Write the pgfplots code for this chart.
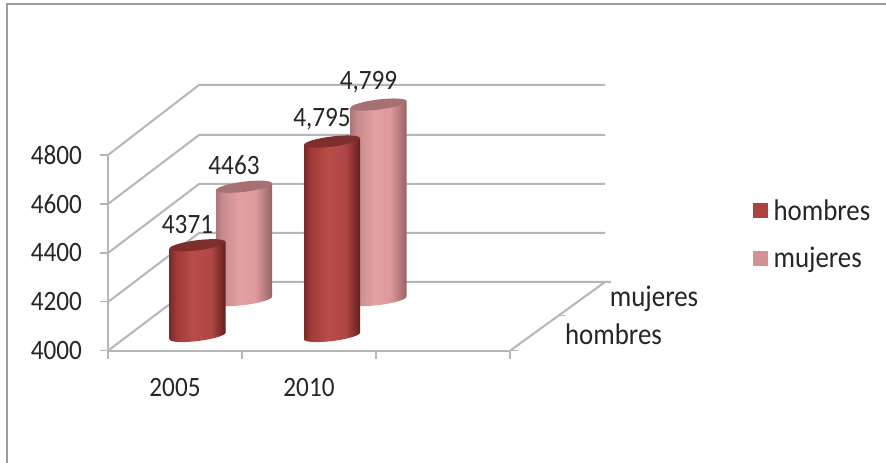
\documentclass[border=0pt]{standalone}
\usepackage{fontspec}
\setmainfont[FakeStretch=0.9]{Carlito}
\usepackage{pgfplots}
\pgfplotsset{compat=1.18}
\definecolor{gridc}{HTML}{B6B6B6}
\definecolor{framec}{HTML}{9C9C9C}
\definecolor{txt}{HTML}{262626}
\definecolor{hleg}{HTML}{AD4341}
\definecolor{mleg}{HTML}{D09293}
\definecolor{htop}{HTML}{7E2E2C}
\definecolor{mtop}{HTML}{A77072}
\definecolor{ha}{RGB}{122,42,40}
\definecolor{hb}{RGB}{160,58,56}
\definecolor{hc}{RGB}{184,76,73}
\definecolor{hd}{RGB}{176,70,68}
\definecolor{he}{RGB}{125,42,40}
\definecolor{hf}{RGB}{98,32,30}
\definecolor{ma}{RGB}{170,120,122}
\definecolor{mb}{RGB}{200,140,142}
\definecolor{mc}{RGB}{226,160,162}
\definecolor{md}{RGB}{222,154,156}
\definecolor{me}{RGB}{175,118,120}
\definecolor{mf}{RGB}{150,100,102}
\pgfdeclarehorizontalshading{cylH}{100bp}{
 color(0bp)=(ha); color(25bp)=(ha); color(31bp)=(hb); color(46bp)=(hc);
 color(62bp)=(hd); color(71bp)=(he); color(75bp)=(hf); color(100bp)=(hf)}
\pgfdeclarehorizontalshading{cylM}{100bp}{
 color(0bp)=(ma); color(25bp)=(ma); color(31bp)=(mb); color(46bp)=(mc);
 color(60bp)=(md); color(70bp)=(me); color(75bp)=(mf); color(100bp)=(mf)}
\pgfdeclareplotmark{ellH}{\pgfpathellipse{\pgfpointorigin}{\pgfpoint{21pt}{2.6pt}}{\pgfpoint{-.45pt}{3.75pt}}\pgfshadepath{cylH}{0}\pgfusepath{discard}}
\pgfdeclareplotmark{ellM}{\pgfpathellipse{\pgfpointorigin}{\pgfpoint{21pt}{2.6pt}}{\pgfpoint{-.45pt}{3.75pt}}\pgfshadepath{cylM}{0}\pgfusepath{discard}}
\pgfdeclareplotmark{ellT}{\pgfpathellipse{\pgfpointorigin}{\pgfpoint{21pt}{2.6pt}}{\pgfpoint{-.45pt}{3.75pt}}\pgfusepathqfill}
\newcommand{\lab}{\fontsize{21}{22}\selectfont}
\newcommand{\wrd}{\fontsize{22.4}{23}\selectfont}
\pgfplotsset{
  gridl/.style={gridc,line width=1.5pt,mark=none,forget plot},
  pxaxis/.style={scale only axis,clip=false,hide axis,width=664.5pt,height=347.25pt,
    xmin=0,xmax=886,ymin=0,ymax=463,y dir=reverse,at={(0pt,0pt)},anchor=south west},
  valaxis/.style={scale only axis,clip=false,width=301.5pt,height=146.775pt,
    xmin=108,xmax=510,ymin=4000,ymax=4800,anchor=south west},
}
\begin{document}
\begin{tikzpicture}
\path[use as bounding box] (0pt,0pt) rectangle (664.5pt,347.25pt);
% background: frame, walls, gridlines, legend
\begin{axis}[pxaxis,
  legend style={draw=none,fill=none,at={(axis cs:753,196.5)},anchor=north west,inner sep=0pt,
     font=\wrd,text=txt,row sep=14.8pt,
     /tikz/every even column/.append style={column sep=0pt}},
  legend cell align=left,
  legend image code/.code={\fill[#1] (0pt,-5.6pt) rectangle (11.2pt,5.6pt);\path (0pt,0pt) -- (13.2pt,0pt);},
  ]
\addplot[framec,line width=1.5pt,mark=none,forget plot] coordinates {(7,463)(7,4)(886,4)};
% walls: diagonals at each 200 step
\addplot[gridl] coordinates {(108,155)(199,85)(605,85)};
\addplot[gridl] coordinates {(108,204)(199,135)(605,135)};
\addplot[gridl] coordinates {(108,253)(199,184)(605,184)};
\addplot[gridl] coordinates {(108,302)(199,233)(605,233)};
\addplot[gridl] coordinates {(108,350.7)(199,282)(605,282)};
\addplot[gridl] coordinates {(510,350.7)(605,282)(611,282)};
\addplot[gridl,line width=1pt] coordinates {(510,350.7)(518,350.7)};
\addplot[gridl,line width=1pt] coordinates {(558,315.5)(565,315.5)};
\addlegendimage{fill=hleg,draw=none}\addlegendentry{hombres}
\addlegendimage{fill=mleg,draw=none}\addlegendentry{mujeres}
\end{axis}
% series mujeres (back row)
\begin{axis}[valaxis,hide axis,at={(81pt,122.25pt)},
  nodes near coords style={font=\lab,text=txt,inner sep=0pt}]
\addplot[shade,shading=cylM,draw=none] coordinates {(216,3986)(272,4014)(272,4477)(216,4449)} --cycle;
\addplot[shade,shading=cylM,draw=none] coordinates {(350.5,3986)(406.5,4014)(406.5,4813)(350.5,4785)} --cycle;
\addplot[only marks,mark=ellM] coordinates {(244,4000)(378.5,4000)};
\addplot[only marks,mark=ellT,mark options={fill=mtop,draw=none},
   point meta=explicit symbolic,nodes near coords,
   nodes near coords style={yshift=8.5pt,xshift=-7.5pt}]
   table[meta=lab,x=x,y=y]{
   x y lab
   244 4463 4463
   378.5 4799 {4,799}
   };
\end{axis}
% series hombres (front row)
\begin{axis}[valaxis,at={(81pt,95.25pt)},hide axis,
  nodes near coords style={font=\lab,text=txt,inner sep=0pt}]
\addplot[shade,shading=cylH,draw=none] coordinates {(169.5,3986)(225.5,4014)(225.5,4385)(169.5,4357)} --cycle;
\addplot[shade,shading=cylH,draw=none] coordinates {(304,3986)(360,4014)(360,4809)(304,4781)} --cycle;
\addplot[only marks,mark=ellH] coordinates {(197.5,4000)(332,4000)};
\addplot[only marks,mark=ellT,mark options={fill=htop,draw=none},
   point meta=explicit symbolic,nodes near coords,
   nodes near coords style={yshift=8.5pt,xshift=-7.5pt}]
   table[meta=lab,x=x,y=y]{
   x y lab
   197.5 4371 4371
   332 4795 {4,795}
   };
\end{axis}
% front axis with ticks and labels
\begin{axis}[valaxis,at={(81pt,84.225pt)},
  axis x line*=bottom,axis y line*=left,
  axis line style={gridc,line width=1.5pt,-},
  ytick={4000,4200,4400,4600,4800},
  xtick={108,242,376,510},xticklabels={},
  extra x ticks={175,309},extra x tick labels={2005,2010},
  extra x tick style={major tick length=0pt},
  tick style={gridc,line width=1pt},
  major tick length=6pt,
  tick align=outside,
  /pgf/number format/assume math mode=true,
  /pgf/number format/set thousands separator={},
  tick label style={font=\lab,text=txt},
  yticklabel style={xshift=-10pt},
  xticklabel style={yshift=-17pt},
  ]
\addplot[draw=none,mark=none] coordinates {(108,4000)};
\end{axis}
% depth labels
\begin{axis}[pxaxis,nodes near coords style={font=\wrd,text=txt,inner sep=0pt,anchor=center}]
\addplot[only marks,mark=none,draw=none,point meta=explicit symbolic,nodes near coords]
  table[meta=lab,x=x,y=y]{
  x y lab
  613.5 334 hombres
  654 299 mujeres
  };
\end{axis}
\end{tikzpicture}
\end{document}
